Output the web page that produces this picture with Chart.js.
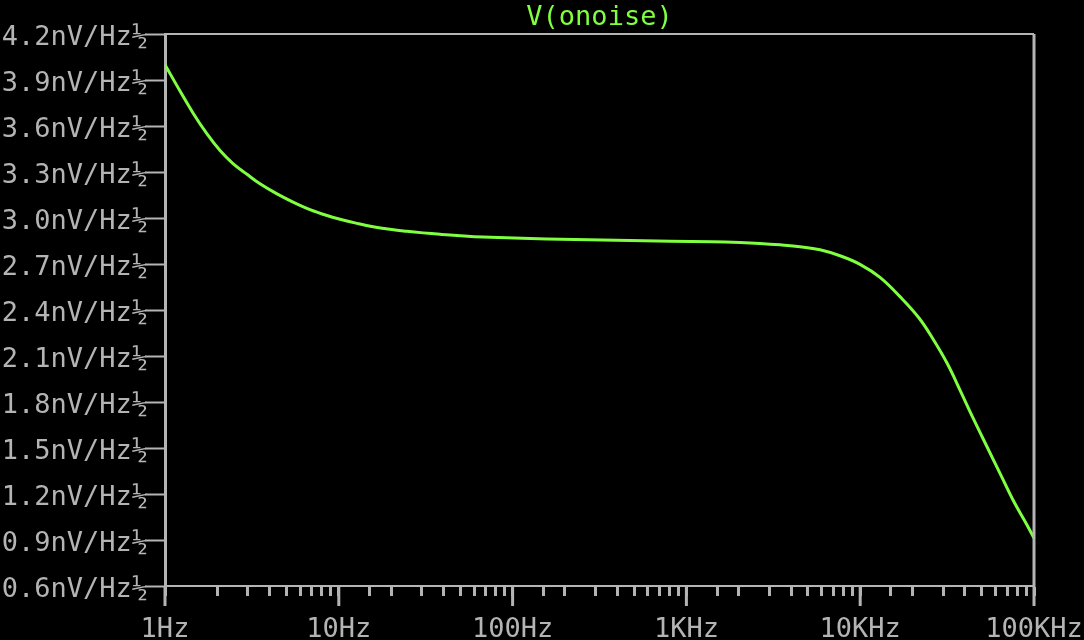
<!DOCTYPE html>
<html>
<head>
<meta charset="utf-8">
<script src="https://cdn.jsdelivr.net/npm/chart.js@4.4.1/dist/chart.umd.min.js"></script>
<style>
  html, body { margin: 0; padding: 0; background: #000; }
  #wrap { width: 1084px; height: 640px; }
</style>
</head>
<body>
<div id="wrap"><canvas id="noiseChart" width="1084" height="640"></canvas></div>
<script>
// ---- datos ----
const title = 'V(onoise)';

// frecuencia en Hz
const freqs = [1, 1.22, 1.449, 1.745, 2.073, 2.462, 2.964, 3.521, 4.411, 5.452, 6.83, 8.555,
  10.16, 12.73, 15.73, 19.71, 24.69, 30.51, 38.22, 47.87, 67.55, 157.7, 473.7, 1404, 2034,
  2652, 3456, 4504, 5871, 7652, 9973, 13000, 16940, 21790, 26240, 31580, 37520, 44570,
  53660, 63750, 75730, 91140, 100000];

// ruido de salida en nV/Hz^1/2
const noise = [4.00, 3.828, 3.685, 3.548, 3.44, 3.355, 3.285, 3.223, 3.157, 3.104, 3.055, 3.016,
  2.992, 2.965, 2.943, 2.926, 2.913, 2.903, 2.894, 2.886, 2.876, 2.863, 2.853, 2.845, 2.84,
  2.834, 2.825, 2.813, 2.793, 2.754, 2.698, 2.613, 2.487, 2.348, 2.211, 2.054, 1.878, 1.696,
  1.508, 1.335, 1.161, 0.998, 0.913];

const xTickValues = [1, 10, 100, 1000, 10000, 100000];
const xTickLabels = ['1Hz', '10Hz', '100Hz', '1KHz', '10KHz', '100KHz'];

const yTickValues = [0.6, 0.9, 1.2, 1.5, 1.8, 2.1, 2.4, 2.7, 3.0, 3.3, 3.6, 3.9, 4.2];
const yTickLabels = ['0.6nV/Hz½', '0.9nV/Hz½', '1.2nV/Hz½', '1.5nV/Hz½', '1.8nV/Hz½', '2.1nV/Hz½',
  '2.4nV/Hz½', '2.7nV/Hz½', '3.0nV/Hz½', '3.3nV/Hz½', '3.6nV/Hz½', '3.9nV/Hz½', '4.2nV/Hz½'];

const GRAY = '#b4b4b4';
const GREEN = '#80ff40';
const FONT = "'DejaVu Sans Mono', monospace";

// marco superior/derecho, ticks mayores del eje x y titulo
const framePlugin = {
  id: 'frame',
  afterDraw(chart) {
    const { ctx, chartArea: a } = chart;
    const xs = chart.scales.x;
    ctx.save();
    ctx.strokeStyle = GRAY;
    ctx.lineWidth = 2;
    ctx.beginPath();
    ctx.moveTo(a.left, a.top);
    ctx.lineTo(a.right, a.top);
    ctx.stroke();
    ctx.lineWidth = 3;
    ctx.beginPath();
    ctx.moveTo(a.right, a.top);
    ctx.lineTo(a.right, a.bottom);
    ctx.stroke();
    // ticks mayores mas largos
    xTickValues.forEach(v => {
      const px = xs.getPixelForValue(v);
      ctx.beginPath();
      ctx.moveTo(px, a.bottom);
      ctx.lineTo(px, a.bottom + 20);
      ctx.stroke();
    });
    // titulo centrado sobre el area del grafico
    ctx.fillStyle = GREEN;
    ctx.font = '27px ' + FONT;
    ctx.textAlign = 'center';
    ctx.textBaseline = 'middle';
    ctx.fillText(title, (a.left + a.right) / 2, 18);
    ctx.restore();
  }
};

new Chart(document.getElementById('noiseChart'), {
  type: 'line',
  data: {
    datasets: [{
      data: freqs.map((f, i) => ({ x: f, y: noise[i] })),
      borderColor: GREEN,
      borderWidth: 3,
      pointRadius: 0,
      tension: 0.4,
      fill: false
    }]
  },
  options: {
    responsive: false,
    animation: false,
    layout: { padding: { top: 34, right: 50, left: 0, bottom: 0 } },
    plugins: {
      legend: { display: false },
      title: { display: false },
      tooltip: { enabled: false }
    },
    scales: {
      x: {
        type: 'logarithmic',
        min: 1,
        max: 100000,
        afterFit: s => { s.height = 54; s.paddingLeft = 0; s.paddingRight = 0; },
        border: { display: true, color: GRAY, width: 2 },
        grid: { drawOnChartArea: false, drawTicks: true, tickLength: 10, tickColor: GRAY, tickWidth: 3 },
        ticks: {
          autoSkip: false,
          maxRotation: 0,
          padding: 18,
          color: GRAY,
          font: { family: FONT, size: 27 },
          callback: (value) => {
            const i = xTickValues.indexOf(Number(value));
            return i >= 0 ? xTickLabels[i] : '';
          }
        }
      },
      y: {
        min: 0.6,
        max: 4.2,
        afterFit: s => { s.width = 165; s.paddingTop = 0; s.paddingBottom = 0; },
        afterBuildTicks: s => { s.ticks = yTickValues.map(v => ({ value: v })); },
        border: { display: true, color: GRAY, width: 3 },
        grid: { drawOnChartArea: false, drawTicks: true, tickLength: 20, tickColor: GRAY, tickWidth: 2 },
        ticks: {
          padding: -3,
          labelOffset: 4,
          color: GRAY,
          font: { family: FONT, size: 27 },
          callback: (value, index) => yTickLabels[index]
        }
      }
    }
  },
  plugins: [framePlugin]
});
</script>
</body>
</html>
